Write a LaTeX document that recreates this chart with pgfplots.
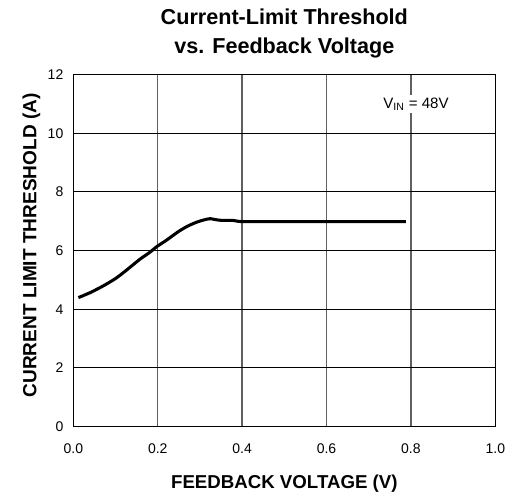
\documentclass[border=0pt]{standalone}
\usepackage{fontspec}
\setmainfont{Liberation Sans}
\usepackage{pgfplots}
\pgfplotsset{compat=1.18}
\definecolor{vgrid}{HTML}{606060}
\begin{document}
\begin{tikzpicture}
\useasboundingbox (-55pt,-51.2pt) rectangle (332pt,320pt);
\begin{axis}[
  scale only axis,
  width=316.5pt, height=264pt,
  xmin=0, xmax=1, ymin=0, ymax=12,
  xtick={0,0.2,0.4,0.6,0.8,1.0},
  ytick={0,2,4,6,8,10,12},
  xticklabels={0.0,0.2,0.4,0.6,0.8,1.0},
  yticklabels={0,2,4,6,8,10,12},
  major tick length=0pt,
  axis line style={line width=1pt, black},
  xmajorgrids, ymajorgrids,
  major x grid style={vgrid, line width=1pt},
  major y grid style={black, line width=0.75pt},
  tick label style={font=\fontsize{10.5}{12}\selectfont},
  xticklabel style={yshift=-9pt},
  yticklabel style={xshift=-4pt},
  xlabel={FEEDBACK VOLTAGE (V)},
  ylabel={CURRENT LIMIT THRESHOLD (A)},
  label style={font=\bfseries\fontsize{14}{16}\selectfont},
  xlabel style={at={(axis description cs:0.5,0)}, anchor=base, yshift=-46pt},
  ylabel style={at={(axis description cs:-0.0995,0.515)}, anchor=center, font=\bfseries\fontsize{14.3}{16}\selectfont},
  title={Current-Limit Threshold},
  title style={font=\bfseries\fontsize{16.2}{18}\selectfont, at={(axis description cs:0.5,1)}, anchor=base, yshift=31.5pt},
  clip=false,
]
\addplot[black, line width=2.3pt, smooth, tension=0.4] coordinates {
(0.012,4.40) (0.04,4.57) (0.071,4.80) (0.10,5.05) (0.122,5.29) (0.158,5.71)
(0.18,5.93) (0.198,6.14) (0.22,6.35) (0.249,6.65) (0.27,6.83) (0.292,6.97)
(0.31,7.05) (0.324,7.09) (0.34,7.05) (0.355,7.03) (0.379,7.03) (0.401,6.99)
(0.5,6.99) (0.6,6.99) (0.7,6.99) (0.788,6.99)
};
\coordinate (vin) at (axis cs:0.812,11.0);
\node[font=\bfseries\fontsize{16.2}{18}\selectfont, anchor=base] at (rel axis cs:0.5,1) [yshift=16pt] {vs. Feedback Voltage};
\end{axis}
\node[fill=white, inner sep=2pt, font=\fontsize{11.3}{13}\selectfont] at (vin) {V\textsubscript{IN} = 48V};
\end{tikzpicture}
\end{document}
